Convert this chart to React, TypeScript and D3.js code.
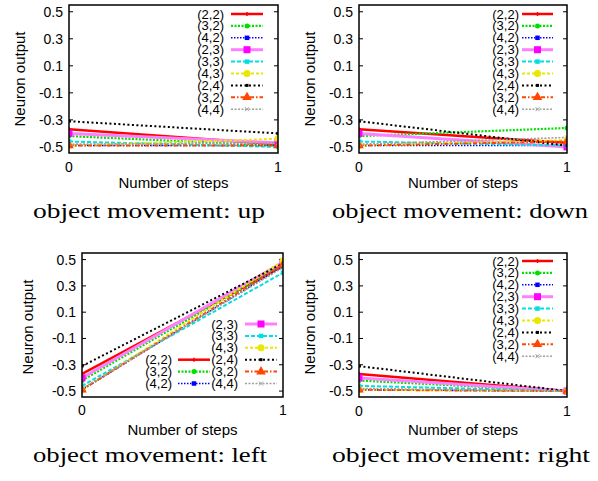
import React, { useEffect, useRef } from "react";
import * as d3 from "d3";

// data
const steps = [0, 1];
const seriesLabels = ["(2,2)", "(3,2)", "(4,2)", "(2,3)", "(3,3)", "(4,3)", "(2,4)", "(3,2)", "(4,4)"];
const startValues = [-0.37, -0.42, -0.49, -0.40, -0.46, -0.49, -0.31, -0.49, -0.48];
const upEnd = [-0.48, -0.49, -0.49, -0.47, -0.50, -0.44, -0.40, -0.49, -0.47];
const downEnd = [-0.47, -0.36, -0.49, -0.50, -0.49, -0.45, -0.49, -0.46, -0.43];
const leftEnd = [0.45, 0.46, 0.45, 0.48, 0.40, 0.49, 0.47, 0.46, 0.44];
const rightEnd = [-0.50, -0.50, -0.50, -0.50, -0.50, -0.50, -0.50, -0.50, -0.50];
const yTicks = [-0.5, -0.3, -0.1, 0.1, 0.3, 0.5];
const xTicks = [0, 1];
const captions = ["object movement: up", "object movement: down", "object movement: left", "object movement: right"];

// line styles (gnuplot-like)
const colors = ["#ff0000", "#00e000", "#0000ff", "#ff80ff", "#00e0e0", "#e8e800", "#000000", "#ff4500", "#a0a0a0"];
const markColors = ["#ff0000", "#00e000", "#0000ff", "#ff00ff", "#00e0e0", "#e8e800", "#000000", "#ff4500", "#a0a0a0"];
const dashes = ["none", "2,1.5", "1.5,1.5", "none", "4,2", "3,2", "2,2.5", "4,2,1.5,2", "2,1.5"];
const widths = [2.5, 2.2, 1.6, 3, 2, 2, 2, 2, 1.6];
const markers = ["plus", "circle", "square", "bigsquare", "square", "bigcircle", "smallsquare", "triangle", "cross"];

const panels = [
  { end: upEnd, left: 69, right: 278, top: 5, bottom: 153, ylabX: 25, ylabY: 79, xlabY: 188, xtickY: 172, capX: 149, capY: 218, capW: 232,
    legend: [{ lx: 224, s0: 231, s1: 263, y0: 14, rows: [0, 1, 2, 3, 4, 5, 6, 7, 8] }] },
  { end: downEnd, left: 359, right: 567, top: 5, bottom: 153, ylabX: 315, ylabY: 79, xlabY: 188, xtickY: 172, capX: 460, capY: 218, capW: 256,
    legend: [{ lx: 519, s0: 522, s1: 553, y0: 14, rows: [0, 1, 2, 3, 4, 5, 6, 7, 8] }] },
  { end: leftEnd, left: 82, right: 283, top: 253, bottom: 397, ylabX: 33, ylabY: 327, xlabY: 435, xtickY: 415, capX: 150, capY: 462, capW: 234,
    legend: [
      { lx: 172, s0: 178, s1: 210, y0: 324, rows: [-1, -1, -1, 0, 1, 2] },
      { lx: 238, s0: 245, s1: 277, y0: 324, rows: [3, 4, 5, 6, 7, 8] },
    ] },
  { end: rightEnd, left: 359, right: 567, top: 253, bottom: 397, ylabX: 315, ylabY: 327, xlabY: 435, xtickY: 416, capX: 461, capY: 462, capW: 258,
    legend: [{ lx: 519, s0: 522, s1: 553, y0: 261, rows: [0, 1, 2, 3, 4, 5, 6, 7, 8] }] },
];

const drawMarker = (g, kind, x, y, i) => {
  const c = markColors[i];
  if (kind === "plus") {
    g.append("path").attr("d", `M${x - 2},${y}H${x + 2}M${x},${y - 2}V${y + 2}`).attr("stroke", c).attr("stroke-width", 1.5);
  } else if (kind === "cross") {
    g.append("path").attr("d", `M${x - 2},${y - 2}L${x + 2},${y + 2}M${x - 2},${y + 2}L${x + 2},${y - 2}`).attr("stroke", c).attr("stroke-width", 1);
  } else if (kind === "circle" || kind === "bigcircle") {
    g.append("circle").attr("cx", x).attr("cy", y).attr("r", kind === "circle" ? 2.5 : 3.5).attr("fill", c);
  } else if (kind === "triangle") {
    g.append("path").attr("d", d3.symbol(d3.symbolTriangle, 40)()).attr("transform", `translate(${x},${y})`).attr("fill", c);
  } else {
    const s = kind === "bigsquare" ? 7 : kind === "square" ? 4.5 : 3;
    g.append("rect").attr("x", x - s / 2).attr("y", y - s / 2).attr("width", s).attr("height", s).attr("fill", c);
  }
};

const Chart = () => {
  const container = useRef(null);

  useEffect(() => {
    const svg = d3.select(container.current);
    svg.selectAll("*").remove();
    const font = "'Liberation Sans', Arial, sans-serif";

    panels.forEach((p, pi) => {
      const g = svg.append("g");
      const x = d3.scaleLinear().domain([0, 1]).range([p.left, p.right]);
      const y = d3.scaleLinear().domain([-0.545, 0.55]).range([p.bottom, p.top]);

      g.append("rect").attr("x", p.left).attr("y", p.top).attr("width", p.right - p.left).attr("height", p.bottom - p.top).attr("fill", "#fff");

      const clipId = "clip" + pi;
      g.append("clipPath").attr("id", clipId).append("rect")
        .attr("x", p.left).attr("y", p.top).attr("width", p.right - p.left).attr("height", p.bottom - p.top);

      // ticks
      yTicks.forEach((t) => {
        g.append("line").attr("x1", p.left).attr("x2", p.left + 4).attr("y1", y(t)).attr("y2", y(t)).attr("stroke", "#000");
        g.append("line").attr("x1", p.right - 4).attr("x2", p.right).attr("y1", y(t)).attr("y2", y(t)).attr("stroke", "#000");
        g.append("text").attr("x", p.left - 6).attr("y", y(t) + 5).attr("text-anchor", "end")
          .attr("font-family", font).attr("font-size", 14).text(t.toFixed(1));
      });
      xTicks.forEach((t) => {
        g.append("text").attr("x", x(t)).attr("y", p.xtickY).attr("text-anchor", "middle")
          .attr("font-family", font).attr("font-size", 14).text(String(t));
      });

      // lines
      const line = d3.line().x((d) => x(d[0])).y((d) => y(d[1]));
      const lines = g.append("g").attr("clip-path", `url(#${clipId})`);
      seriesLabels.forEach((_, i) => {
        const pts = steps.map((s, k) => [s, k === 0 ? startValues[i] : p.end[i]]);
        lines.append("path").attr("d", line(pts)).attr("fill", "none")
          .attr("stroke", colors[i]).attr("stroke-width", widths[i])
          .attr("stroke-dasharray", dashes[i]);
      });
      seriesLabels.forEach((_, i) => {
        steps.forEach((s, k) => drawMarker(lines, markers[i], x(s), y(k === 0 ? startValues[i] : p.end[i]), i));
      });

      // legend
      p.legend.forEach((col) => {
        col.rows.forEach((si, r) => {
          if (si < 0) return;
          const ry = col.y0 + r * 11.9;
          g.append("text").attr("x", col.lx).attr("y", ry + 4.5).attr("text-anchor", "end")
            .attr("font-family", font).attr("font-size", 13).text(seriesLabels[si]);
          g.append("line").attr("x1", col.s0).attr("x2", col.s1).attr("y1", ry).attr("y2", ry)
            .attr("stroke", colors[si]).attr("stroke-width", widths[si]).attr("stroke-dasharray", dashes[si]);
          drawMarker(g, markers[si], (col.s0 + col.s1) / 2, ry, si);
        });
      });

      g.append("rect").attr("x", p.left).attr("y", p.top).attr("width", p.right - p.left).attr("height", p.bottom - p.top)
        .attr("fill", "none").attr("stroke", "#000").attr("stroke-width", 1.5);

      // axis labels
      g.append("text").attr("transform", `translate(${p.ylabX},${p.ylabY}) rotate(-90)`).attr("text-anchor", "middle")
        .attr("font-family", font).attr("font-size", 15).text("Neuron output");
      g.append("text").attr("x", (p.left + p.right) / 2).attr("y", p.xlabY).attr("text-anchor", "middle")
        .attr("font-family", font).attr("font-size", 15).text("Number of steps");

      g.append("text").attr("x", p.capX).attr("y", p.capY).attr("text-anchor", "middle")
        .attr("font-family", "'Liberation Serif', serif").attr("font-size", 20)
        .attr("textLength", p.capW).attr("lengthAdjust", "spacingAndGlyphs").text(captions[pi]);
    });
  }, []);

  return <svg ref={container} width={598} height={481} style={{ display: "block", background: "#fff" }} />;
};

export default function App() {
  return (
    <div style={{ position: "absolute", left: 0, top: 0 }}>
      <Chart />
    </div>
  );
}
